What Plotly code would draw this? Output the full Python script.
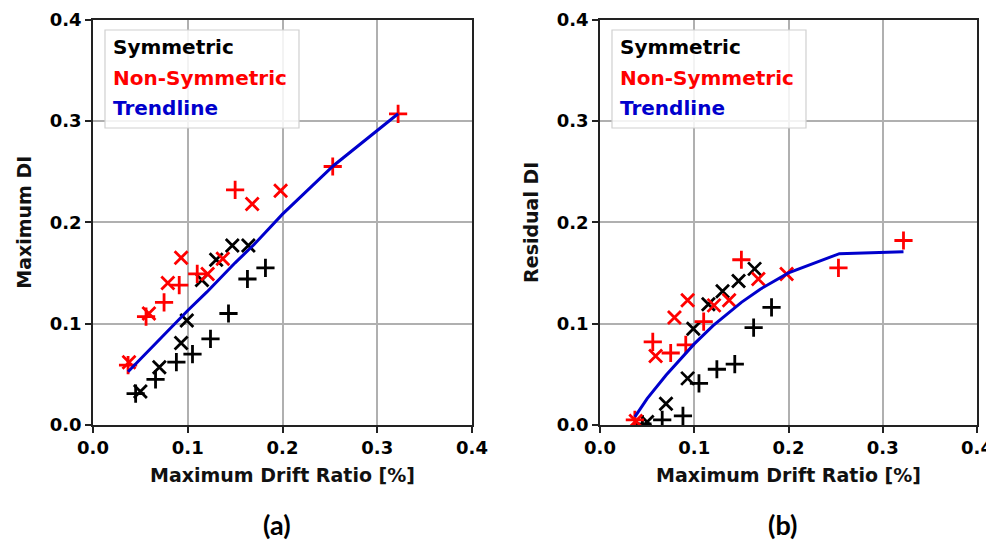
import plotly.graph_objects as go

# ---------------- data ----------------
sym_x_x = [0.050, 0.070, 0.093, 0.099, 0.115, 0.130, 0.147, 0.164]
sym_x_max = [0.033, 0.057, 0.081, 0.103, 0.143, 0.163, 0.177, 0.177]
sym_x_res = [0.003, 0.021, 0.046, 0.095, 0.119, 0.132, 0.142, 0.154]

sym_p_x = [0.045, 0.066, 0.088, 0.105, 0.124, 0.143, 0.163, 0.182]
sym_p_max = [0.031, 0.045, 0.062, 0.070, 0.085, 0.110, 0.144, 0.155]
sym_p_res = [0.001, 0.005, 0.009, 0.041, 0.055, 0.060, 0.096, 0.116]

non_x_x = [0.038, 0.059, 0.079, 0.093, 0.121, 0.137, 0.168, 0.198]
non_x_max = [0.062, 0.110, 0.140, 0.165, 0.149, 0.164, 0.218, 0.231]
non_x_res = [0.004, 0.068, 0.106, 0.123, 0.118, 0.123, 0.144, 0.149]

non_p_x = [0.037, 0.056, 0.075, 0.091, 0.110, 0.150, 0.253, 0.322]
non_p_max = [0.059, 0.107, 0.121, 0.138, 0.149, 0.232, 0.255, 0.307]
non_p_res = [0.005, 0.082, 0.071, 0.079, 0.102, 0.163, 0.155, 0.182]

trend_x = [0.037, 0.05, 0.07, 0.09, 0.1, 0.12, 0.15, 0.17, 0.2, 0.254, 0.322]
trend_max = [0.0525, 0.065, 0.085, 0.104, 0.113, 0.131, 0.160, 0.178, 0.208, 0.256, 0.307]
trend_res = [0.008, 0.026, 0.049, 0.070, 0.080, 0.098, 0.121, 0.134, 0.150, 0.169, 0.171]

tick_vals = [0.0, 0.1, 0.2, 0.3, 0.4]
tick_text = ["0.0", "0.1", "0.2", "0.3", "0.4"]
legend_labels = ["Symmetric", "Non-Symmetric", "Trendline"]
legend_colors = ["#000000", "#ff0000", "#0000cc"]
panel_labels = ["(a)", "(b)"]
y_titles = ["Maximum DI", "Residual DI"]
x_title = "Maximum Drift Ratio [%]"

# page body has an 8px margin; size the figure so it fills the window
OFF = 8
W, H = 994 - OFF, 545 - OFF
FONT = "DejaVu Sans"
RED = "#ff0000"
BLUE = "#0000cc"


def px_x(p):
    return (p - OFF) / W


def px_y(p):
    return 1 - (p - OFF) / H


fig = go.Figure()

panels = [
    ("x", "y", sym_x_max, sym_p_max, non_x_max, non_p_max, trend_max),
    ("x2", "y2", sym_x_res, sym_p_res, non_x_res, non_p_res, trend_res),
]


def mk(sym, color):
    return dict(symbol=sym, size=13, color=color, line=dict(width=2.8, color=color))


for xa, ya, sx, sp, nx, npl, tr in panels:
    fig.add_trace(go.Scatter(x=sym_x_x, y=sx, mode="markers", xaxis=xa, yaxis=ya,
                             marker=mk("x-thin", "black"), showlegend=False))
    fig.add_trace(go.Scatter(x=sym_p_x, y=sp, mode="markers", xaxis=xa, yaxis=ya,
                             marker=mk("cross-thin", "black"), showlegend=False))
    fig.add_trace(go.Scatter(x=non_x_x, y=nx, mode="markers", xaxis=xa, yaxis=ya,
                             marker=mk("x-thin", RED), showlegend=False))
    fig.add_trace(go.Scatter(x=non_p_x, y=npl, mode="markers", xaxis=xa, yaxis=ya,
                             marker=mk("cross-thin", RED), showlegend=False))
    fig.add_trace(go.Scatter(x=trend_x, y=tr, mode="lines", xaxis=xa, yaxis=ya,
                             line=dict(color=BLUE, width=3), showlegend=False))

# plot area pixel geometry (window coordinates)
left_px = [(93, 472), (600, 977)]
top_px, bot_px = 19.5, 425

axis_common = dict(
    range=[0, 0.4], tickvals=tick_vals, ticktext=tick_text,
    showgrid=True, gridcolor="#b0b0b0", gridwidth=1.5,
    showline=True, linecolor="#222222", linewidth=1.5, mirror=True,
    ticks="outside", ticklen=6, tickcolor="#222222", tickwidth=1.5,
    tickfont=dict(family=FONT, size=18, color="black", weight="bold"),
    zeroline=False, automargin=False, fixedrange=True,
    ticklabeloverflow="allow",
)

for i, (l, r) in enumerate(left_px):
    sfx = "" if i == 0 else str(i + 1)
    fig.update_layout(**{
        "xaxis" + sfx: dict(axis_common, domain=[px_x(l), px_x(r)], anchor="y" + sfx,
                            title=dict(text=x_title, standoff=11,
                                       font=dict(family=FONT, size=19, color="#111", weight="bold"))),
        "yaxis" + sfx: dict(axis_common, domain=[px_y(bot_px), px_y(top_px)], anchor="x" + sfx,
                            title=dict(text=y_titles[i], standoff=13,
                                       font=dict(family=FONT, size=19, color="#111", weight="bold"))),
    })

shapes = []
annotations = []
for i, (l, r) in enumerate(left_px):
    # legend box
    bx0, bx1 = l + 12, l + 206
    by0, by1 = 30, 128
    shapes.append(dict(type="rect", xref="paper", yref="paper",
                       x0=px_x(bx0), x1=px_x(bx1), y0=px_y(by1), y1=px_y(by0),
                       line=dict(color="#d0d0d0", width=1.2),
                       fillcolor="rgba(255,255,255,0.85)", layer="above"))
    for j, (lab, col) in enumerate(zip(legend_labels, legend_colors)):
        annotations.append(dict(text=lab, xref="paper", yref="paper",
                                x=px_x(bx0 + 6), y=px_y(47 + 30.5 * j),
                                xanchor="left", yanchor="middle", showarrow=False,
                                font=dict(family=FONT, size=20, color=col, weight="bold")))
    annotations.append(dict(text=panel_labels[i], xref="paper", yref="paper",
                            x=px_x((l + r) / 2 - 6), y=px_y(524),
                            xanchor="center", yanchor="middle", showarrow=False,
                            font=dict(family="Lato", size=27, color="black", weight="bold")))

fig.update_layout(
    width=W, height=H,
    margin=dict(l=0, r=0, t=0, b=0),
    paper_bgcolor="white", plot_bgcolor="white",
    shapes=shapes, annotations=annotations,
    showlegend=False,
)

fig.write_html("out.html")
